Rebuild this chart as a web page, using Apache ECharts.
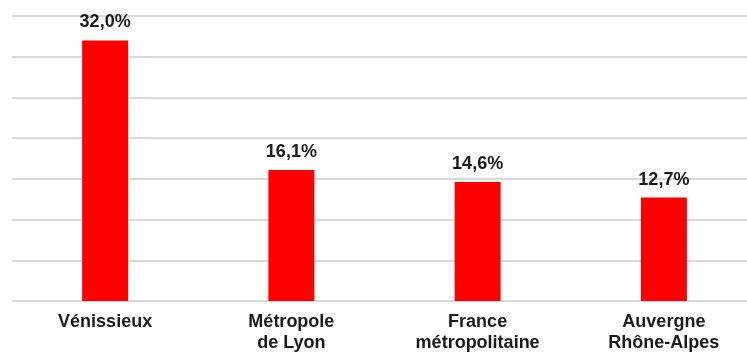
<!DOCTYPE html>
<html>
<head>
<meta charset="utf-8">
<script src="https://cdn.jsdelivr.net/npm/echarts@6/dist/echarts.min.js"></script>
<style>html,body{margin:0;padding:0;background:#fff;}#c{width:747px;height:356px;}</style>
</head>
<body>
<div id="c"></div>
<script>
const categories = ["Vénissieux", "Métropole\nde Lyon", "France\nmétropolitaine", "Auvergne\nRhône-Alpes"];
const values = [32.0, 16.1, 14.6, 12.7];

const chart = echarts.init(document.getElementById('c'), null, {renderer: 'canvas'});
chart.setOption({
  animation: false,
  grid: {left: 12, top: 16, right: -10, bottom: 55, containLabel: false, outerBoundsMode: 'none'},
  xAxis: {
    type: 'category',
    data: categories,
    axisLine: {show: false},
    axisTick: {show: false},
    axisLabel: {
      interval: 0,
      margin: 11,
      fontFamily: 'Liberation Sans, Arial, sans-serif',
      fontWeight: 'bold',
      fontSize: 18,
      lineHeight: 21,
      color: '#1a1a1a'
    }
  },
  yAxis: {
    type: 'value',
    min: 0, max: 35, interval: 5,
    axisLabel: {show: false},
    axisLine: {show: false},
    axisTick: {show: false},
    splitLine: {lineStyle: {color: '#d9d9d9', width: 2}}
  },
  series: [{
    type: 'bar',
    data: values,
    barWidth: 46,
    itemStyle: {color: '#ff0000'},
    label: {
      show: true,
      position: 'top',
      distance: 9,
      formatter: p => p.value.toFixed(1).replace('.', ',') + '%',
      fontFamily: 'Liberation Sans, Arial, sans-serif',
      fontWeight: 'bold',
      fontSize: 18,
      color: '#1a1a1a'
    }
  }]
});
</script>
</body>
</html>
